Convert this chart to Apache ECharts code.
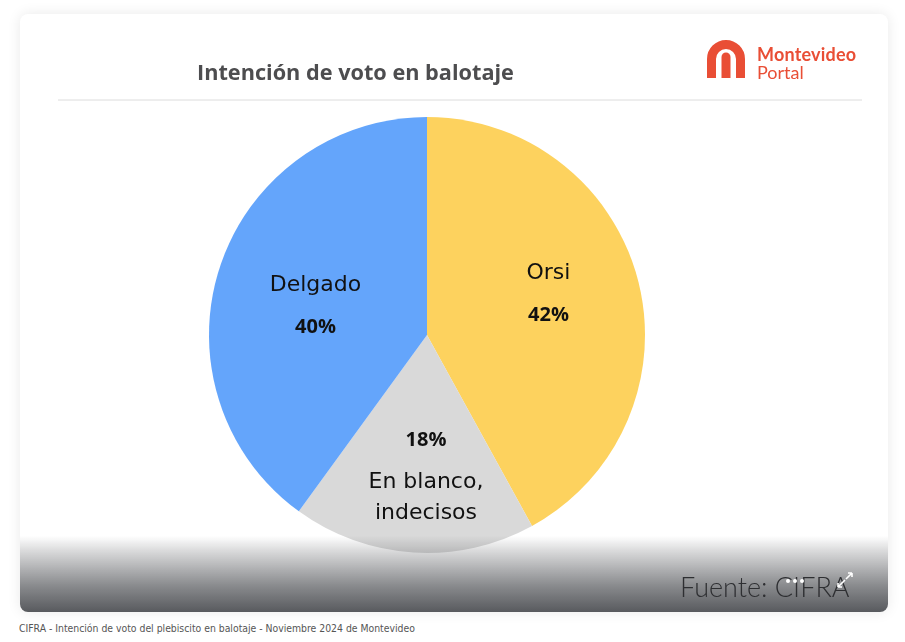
<!DOCTYPE html>
<html lang="es">
<head>
    <meta charset="UTF-8">
    <title>Intención de voto en balotaje</title>
    <script src="https://cdn.jsdelivr.net/npm/echarts@6/dist/echarts.min.js"></script>
    <style>
        html, body { margin: 0; padding: 0; background: #fff; }
        body { width: 905px; height: 642px; position: relative; overflow: hidden; }
        .card {
            position: absolute; left: 20px; top: 14px; width: 868px; height: 598px;
            background: #fff; border-radius: 8px; overflow: hidden;
            box-shadow: 0 0 14px rgba(0,0,0,0.09);
        }
        #main { position: absolute; left: 0; top: 0; width: 868px; height: 598px; }
        .logo { position: absolute; left: 687px; top: 26px; }
        .logo svg { position: absolute; left: 0; top: 0; }
        .logo .t1, .logo .t2 {
            position: absolute; left: 50px; white-space: nowrap;
            font-family: Lato, sans-serif; font-size: 18px; color: #e94e35; line-height: 18px;
        }
        .logo .t1 { top: 5px; font-weight: 700; letter-spacing: 0.2px; }
        .logo .t2 { top: 23px; font-weight: 400; }
        .fade {
            position: absolute; left: 0; bottom: 0; width: 100%; height: 76px;
            background: linear-gradient(to bottom, rgba(88,90,94,0) 0%, rgba(88,90,94,0.25) 22%, rgba(88,90,94,0.7) 65%, rgba(88,90,94,1) 100%);
        }
        .fuente {
            position: absolute; left: 660px; top: 556px;
            font-family: Lato, sans-serif; font-weight: 300; font-size: 27px; color: #2e2f32;
        }
        .icons { position: absolute; left: 764px; top: 557px; }
        .caption {
            position: absolute; left: 19px; top: 622px; white-space: nowrap;
            font-family: "Liberation Sans Narrow", "DejaVu Sans Condensed", sans-serif;
            font-size: 11px; color: #555;
            transform: scaleX(0.94); transform-origin: left top;
        }
    </style>
</head>
<body>
    <div class="card">
        <div id="main"></div>
        <div class="logo">
            <svg width="38" height="38" viewBox="0 0 38 38">
                <path d="M4.5 38 V19 A14.5 14.5 0 0 1 33.5 19 V38" fill="none" stroke="#e94e35" stroke-width="9"/>
                <path d="M14.5 38 V17 A4.5 4.5 0 0 1 23.5 17 V38 Z" fill="#e94e35"/>
            </svg>
            <div class="t1">Montevideo</div>
            <div class="t2">Portal</div>
        </div>
        <div class="fade"></div>
        <div class="fuente">Fuente: CIFRA</div>
        <div class="icons">
            <svg width="70" height="20" viewBox="0 0 70 20">
                <circle cx="4" cy="10" r="2" fill="#fff"/>
                <circle cx="11" cy="10" r="2" fill="#fff"/>
                <circle cx="18" cy="10" r="2" fill="#fff"/>
                <path d="M54 16 L61 9 M54 16 V12 M54 16 H58 M62 8 L68 2 M68 2 H64 M68 2 V6" stroke="#fff" stroke-width="1.6" fill="none"/>
            </svg>
        </div>
    </div>
    <div class="caption">CIFRA - Intención de voto del plebiscito en balotaje - Noviembre 2024 de Montevideo</div>
    <script>
        // datos
        var nombres = ['Orsi', 'En blanco,\nindecisos', 'Delgado'];
        var valores = [42, 18, 40];
        var colores = ['#fdd25e', '#d9d9d9', '#64a5fb'];
        // pequeño ajuste de las etiquetas respecto a la posicion 'inside'
        var ajuste = [[13, -13], [6, 25], [-5, 6]];

        var myChart = echarts.init(document.getElementById('main'));

        var datos = nombres.map(function (n, i) {
            return { name: n, value: valores[i], itemStyle: { color: colores[i] } };
        });

        var option = {
            animation: false,
            title: {
                text: 'Intención de voto en balotaje',
                left: 172,
                top: 44,
                textStyle: { fontFamily: 'Open Sans', fontWeight: 700, fontSize: 21.7, color: '#4d4d4f' }
            },
            graphic: [{
                type: 'line',
                shape: { x1: 38, y1: 86, x2: 842, y2: 86 },
                style: { stroke: '#dcdcdc', lineWidth: 1 }
            }],
            series: [{
                type: 'pie',
                center: [407, 321],
                radius: [0, 218],
                startAngle: 90,
                clockwise: true,
                silent: true,
                data: datos,
                label: {
                    show: true,
                    position: 'inside',
                    formatter: function (p) {
                        if (p.dataIndex === 1) {
                            var l = p.name.split('\n');
                            return '{q|' + p.value + '%}\n{m|' + l[0] + '}\n{m|' + l[1] + '}';
                        }
                        return '{n|' + p.name + '}\n{p|' + p.value + '%}';
                    },
                    rich: {
                        n: { fontFamily: 'DejaVu Sans', fontSize: 22, color: '#111', lineHeight: 42 },
                        m: { fontFamily: 'DejaVu Sans', fontSize: 22, color: '#111', lineHeight: 31 },
                        p: { fontFamily: 'Open Sans', fontWeight: 700, fontSize: 20, color: '#111', lineHeight: 42 },
                        q: { fontFamily: 'Open Sans', fontWeight: 700, fontSize: 20, color: '#111', lineHeight: 53 }
                    }
                },
                labelLine: { show: false }
            }]
        };

        option.series[0].labelLayout = function (params) {
            var a = ajuste[params.dataIndex];
            return { dx: a[0], dy: a[1] };
        };

        myChart.setOption(option);
        window.onresize = myChart.resize;
    </script>
</body>
</html>
